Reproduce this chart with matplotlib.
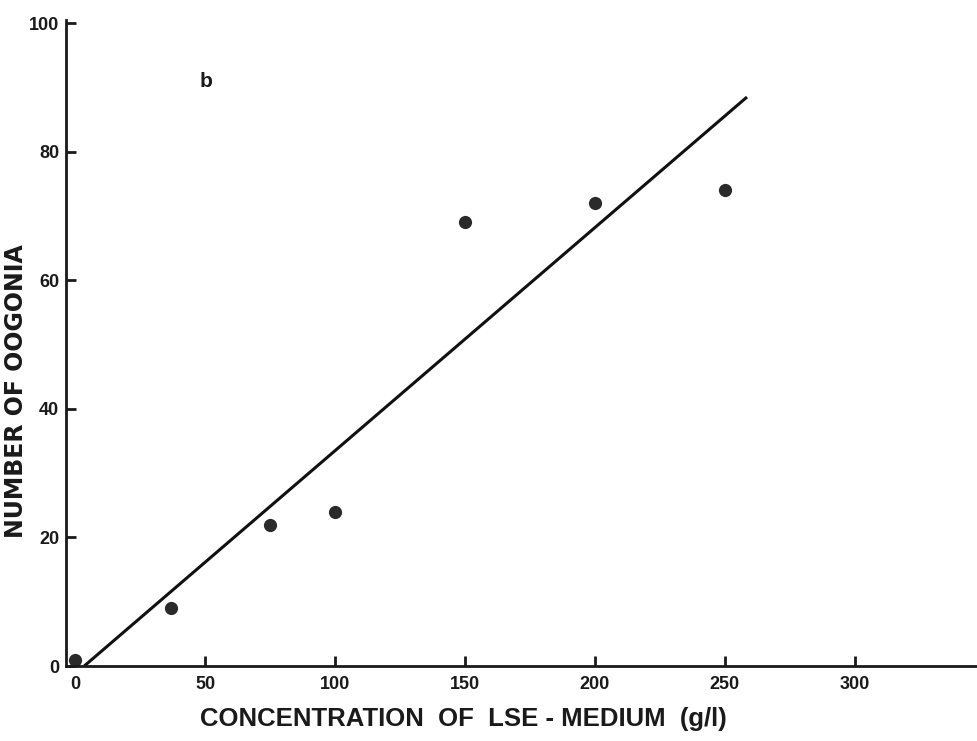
import numpy as np
import matplotlib.pyplot as plt

# LSE-medium concentration (g/l) vs number of oogonia
conc = [0, 37, 75, 100, 150, 200, 250]
oogonia = [1, 9, 22, 24, 69, 72, 74]

# fitted regression line (end points)
fit_x = [3.5, 258.5]
fit_y = [0.0, 88.5]

xticks = [0, 50, 100, 150, 200, 250, 300]
yticks = [0, 20, 40, 60, 80, 100]

plt.rcParams['font.family'] = ['Liberation Sans', 'DejaVu Sans']

fig = plt.figure(figsize=(9.77, 7.41), dpi=100)
ax = fig.add_axes([0.0676, 0.1012, 0.9324, 0.872])

ax.plot(fit_x, fit_y, color='#111111', linewidth=2.2, solid_capstyle='butt')
ax.plot(conc, oogonia, 'o', color='#2a2a2a', markersize=9.5, markeredgewidth=0)

ax.set_xlim(-3.5, 347)
ax.set_ylim(0, 100.5)

for s in ['top', 'right']:
    ax.spines[s].set_visible(False)
for s in ['left', 'bottom']:
    ax.spines[s].set_linewidth(2)
    ax.spines[s].set_color('#1a1a1a')

ax.set_xticks(xticks)
ax.set_yticks(yticks)
ax.tick_params(direction='in', length=7, width=2, color='#1a1a1a', labelsize=13)
ax.tick_params(axis='x', pad=7)
ax.tick_params(axis='y', pad=5)
for lab in ax.get_xticklabels() + ax.get_yticklabels():
    lab.set_fontweight('bold')
    lab.set_color('#1a1a1a')

ax.set_xlabel('CONCENTRATION  OF  LSE - MEDIUM  (g/l)', fontsize=18.5,
              fontweight='bold', color='#1a1a1a')
ax.xaxis.set_label_coords(0.436, -0.063)
ax.set_ylabel('NUMBER OF OOGONIA', fontsize=17, fontweight='bold',
              family=['DejaVu Sans'], color='#1a1a1a')
ax.yaxis.set_label_coords(-0.042, 0.426)

ax.text(48, 90, 'b', fontsize=15, fontweight='bold', color='#1a1a1a')

fig.savefig('out.png', dpi=100)
